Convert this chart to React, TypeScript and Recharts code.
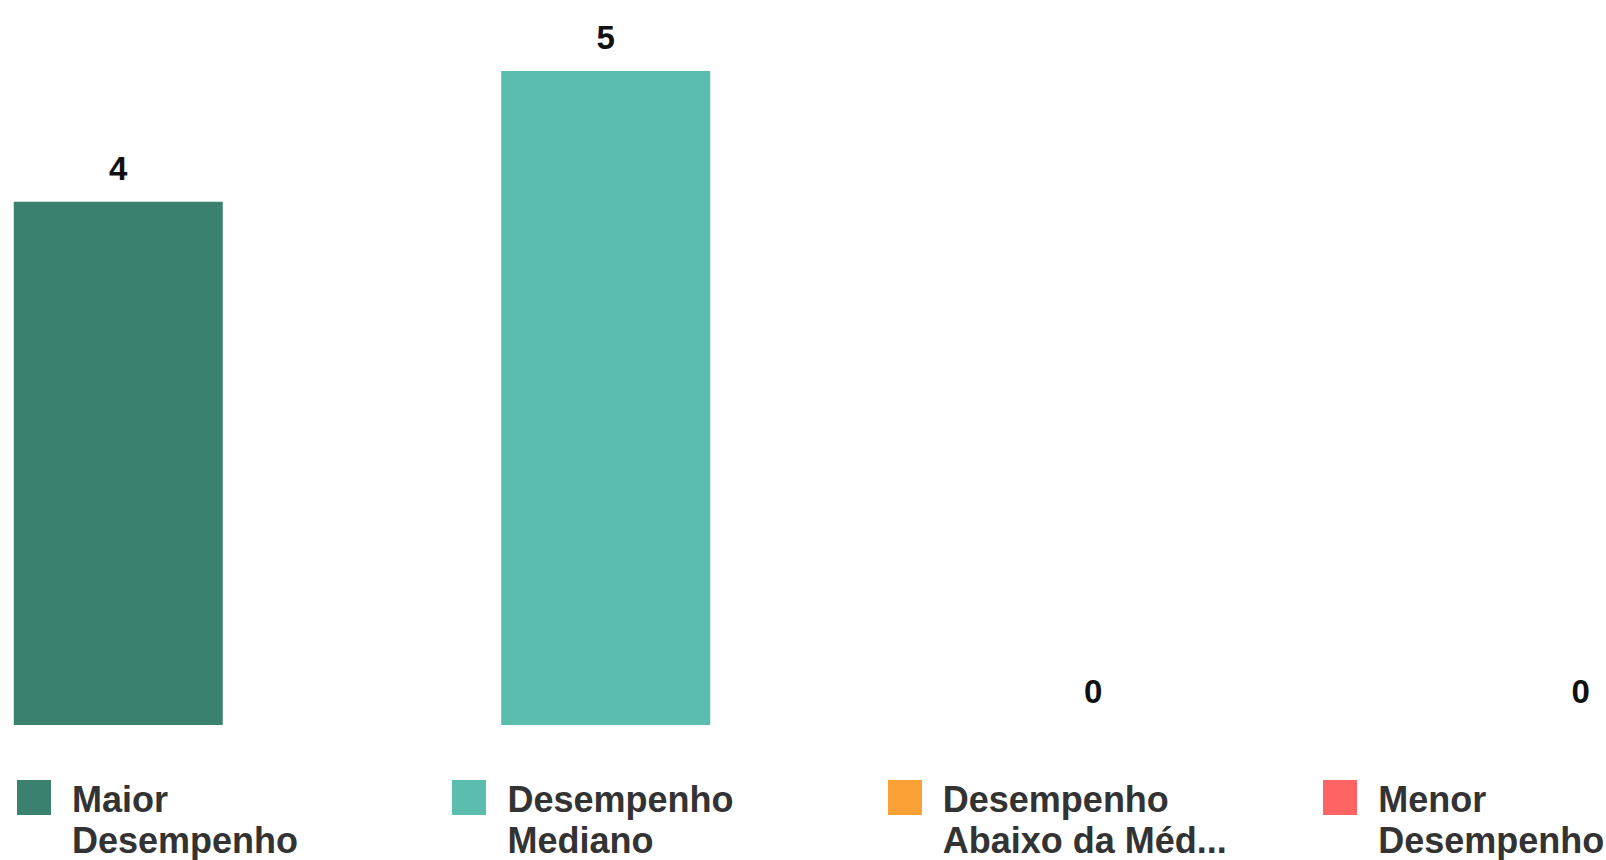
import { BarChart, Bar, XAxis, YAxis, Cell, LabelList, Legend } from "recharts";

const CATEGORIES = ["Maior Desempenho", "Desempenho Mediano", "Desempenho Abaixo da Média", "Menor Desempenho"];
const VALUES = [4, 5, 0, 0];
const LEGEND_LINES = [
  ["Maior", "Desempenho"],
  ["Desempenho", "Mediano"],
  ["Desempenho", "Abaixo da Méd..."],
  ["Menor", "Desempenho"],
];
const COLORS = ["#3b8170", "#5bbdad", "#f9a134", "#ff6464"];

const FONT = '"Liberation Sans", Arial, sans-serif';

const data = CATEGORIES.map((name, i) => ({ name, value: VALUES[i] }));

function LegendBox() {
  return (
    <div style={{ position: "relative", width: 1606, height: 135, fontFamily: FONT }}>
      {LEGEND_LINES.map((lines, i) => (
        <div key={i} style={{ position: "absolute", left: 17 + i * 435.4, top: 55, display: "flex", alignItems: "flex-start" }}>
          <div style={{ width: 34, height: 35, background: COLORS[i], flexShrink: 0 }} />
          <div
            style={{
              marginLeft: 21,
              fontSize: 36,
              lineHeight: "41px",
              fontWeight: 700,
              color: "#333",
              whiteSpace: "nowrap",
              marginTop: -1,
            }}
          >
            {lines.map((l, j) => <div key={j}>{l}</div>)}
          </div>
        </div>
      ))}
    </div>
  );
}

export default function App() {
  return (
    <div style={{ position: "absolute", left: 0, top: 0, width: 1606, height: 860, overflow: "hidden", background: "#fff" }}>
      <BarChart
        width={1606}
        height={860}
        data={data}
        margin={{ top: 71, right: -218.75, left: -125.25, bottom: 0 }}
      >
        <XAxis dataKey="name" hide />
        <YAxis hide domain={[0, 5]} />
        <Legend
          verticalAlign="bottom"
          height={135}
          width={1606}
          wrapperStyle={{ left: 0, bottom: 0 }}
          content={() => <LegendBox />}
        />
        <Bar
          dataKey="value"
          barSize={209}
          minPointSize={(v: number) => (v === 0 ? 0.01 : 0)}
          isAnimationActive={false}
        >
          {data.map((d, i) => (
            <Cell key={i} fill={COLORS[i]} fillOpacity={d.value === 0 ? 0 : 1} />
          ))}
          <LabelList
            dataKey="value"
            position="top"
            offset={22}
            style={{ fontFamily: FONT, fontSize: 33, fontWeight: 700, fill: "#111" }}
          />
        </Bar>
      </BarChart>
    </div>
  );
}
